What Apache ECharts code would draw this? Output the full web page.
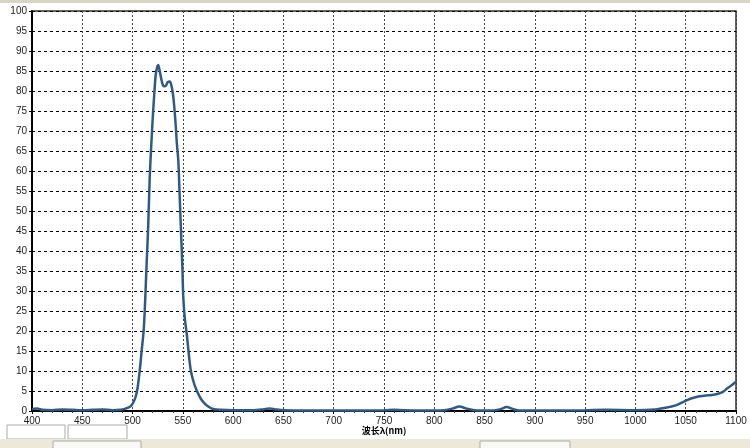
<!DOCTYPE html>
<html>
<head>
<meta charset="utf-8">
<script src="https://cdn.jsdelivr.net/npm/echarts@6/dist/echarts.min.js"></script>
<style>html,body{margin:0;padding:0;background:#fff;}#c{width:750px;height:448px;}</style>
</head>
<body>
<div id="c"></div>
<script>
const wavelengths = [400,405,410,420,430,440,450,460,470,480,488,493,497,500,503,505,507.5,509,511,512.5,514,515.5,517,518.5,520,521.5,523,524.5,525.5,527,529,531,533,535,537,538.5,540,541.5,543,544,545.5,546.5,548,549.5,550.5,552,554,556,558,561,564,568,572,576,580,587,600,620,630,636,642,650,670,700,750,760,770,800,810,818,825,832,840,855,865,872,878,885,900,950,970,1000,1020,1030,1040,1047,1052,1058,1064,1070,1076,1082,1087,1091,1095,1100];
const transmittance = [0.5,0.6,0.3,0.2,0.4,0.3,0.2,0.3,0.4,0.2,0.3,0.6,1.0,1.8,3.5,5.8,11,15,20,27.5,37,46,58,66,73,79,84,86,86.5,85,82.5,81.2,81.3,82.2,82.4,81.5,79.5,76,71,67,62.5,56,46,36,28,23,19,14,10,7,5,3,1.8,1,0.5,0.3,0.2,0.2,0.4,0.6,0.4,0.2,0.1,0.1,0.2,0.3,0.2,0.1,0.2,0.6,1.1,0.6,0.2,0.1,0.4,1.0,0.5,0.1,0.1,0.2,0.3,0.2,0.4,0.8,1.4,2.2,2.8,3.3,3.7,3.9,4.0,4.3,4.8,5.6,6.3,7.3];
const xTitle = '波长λ(nm)';
const yTitle = '透过率T(%)';

const chart = echarts.init(document.getElementById('c'));
const labelFont = {color:'#222', fontSize:10, fontFamily:'Liberation Sans, Arial, sans-serif'};
chart.setOption({
  animation:false,
  backgroundColor:'#fff',
  grid:{left:32,right:14,top:11,bottom:37,containLabel:false,outerBoundsMode:'none',show:true,borderColor:'#333',borderWidth:1.5,backgroundColor:'transparent'},
  xAxis:{
    type:'value',min:400,max:1100,interval:50,
    name:xTitle,nameLocation:'middle',nameGap:15,nameMoveOverlap:false,
    nameTextStyle:{color:'#000',fontSize:9,fontWeight:'bold',fontFamily:'Noto Sans CJK SC'},
    axisLine:{show:true,onZero:false,lineStyle:{color:'#000',width:2}},
    axisTick:{show:true,length:3,lineStyle:{color:'#000'}},
    minorTick:{show:true,splitNumber:5,length:2,lineStyle:{color:'#333'}},
    axisLabel:Object.assign({margin:5,formatter:v=>String(v)},labelFont),
    splitLine:{show:true,lineStyle:{color:'#444',type:[2,2],width:1}}
  },
  yAxis:{
    type:'value',min:0,max:100,interval:5,
    name:yTitle,nameLocation:'middle',nameGap:23,nameRotate:90,
    nameTextStyle:{color:'#000',fontSize:9,fontWeight:'bold',fontFamily:'Noto Sans CJK SC'},
    axisLine:{show:true,lineStyle:{color:'#000',width:2}},
    axisTick:{show:true,length:3,lineStyle:{color:'#000'}},
    axisLabel:Object.assign({margin:5,formatter:v=>String(v)},labelFont),
    splitLine:{show:true,lineStyle:{color:'#000',type:[3,3],width:1}}
  },
  series:[{
    type:'line',
    data:wavelengths.map((w,i)=>[w,transmittance[i]]),
    smooth:0.3,
    showSymbol:false,
    lineStyle:{color:'#2f5a84',width:2.5},
    z:5
  }],
  graphic:[
    {type:'rect',shape:{x:0,y:0,width:750,height:3},style:{fill:'#d8d4c8'},silent:true},
    {type:'rect',shape:{x:7,y:425,width:58,height:14},style:{fill:'#fff',stroke:'#aaa',lineWidth:1},silent:true},
    {type:'rect',shape:{x:68,y:425,width:59,height:14},style:{fill:'#fff',stroke:'#aaa',lineWidth:1},silent:true},
    {type:'rect',shape:{x:0,y:439,width:750,height:9},style:{fill:'#ece9d8'},silent:true},
    {type:'rect',shape:{x:53,y:441,width:88,height:8},style:{fill:'#f8f8f4',stroke:'#aaa',lineWidth:1},silent:true},
    {type:'rect',shape:{x:480,y:441,width:90,height:8},style:{fill:'#f8f8f4',stroke:'#aaa',lineWidth:1},silent:true}
  ]
});
</script>
</body>
</html>
